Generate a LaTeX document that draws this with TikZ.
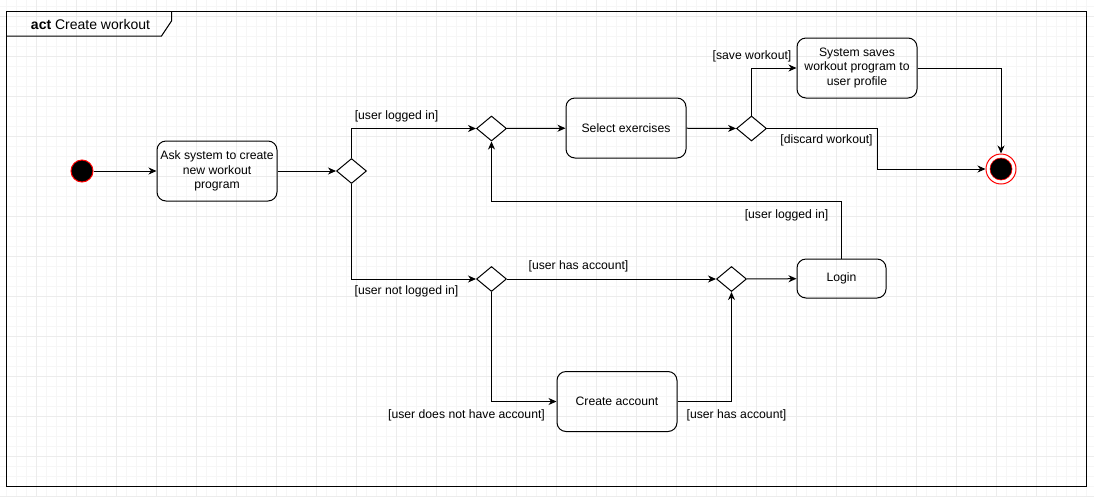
\documentclass[tikz,border=0pt]{standalone}
\usepackage{fontspec}
\setmainfont{Liberation Sans}
\usetikzlibrary{shapes.geometric,arrows.meta}
\begin{document}
\begin{tikzpicture}[x=1pt,y=-1pt,line width=1pt,
    font=\fontsize{12.2}{14.2}\selectfont,
    action/.style={draw,rounded corners=9pt,align=center,minimum width=120pt,minimum height=60pt,inner sep=2pt},
    choice/.style={draw,diamond,minimum width=30pt,minimum height=25pt,inner sep=0pt,fill=white},
    flow/.style={-{Stealth[length=8pt,width=7pt,inset=2.5pt]}},
    guard/.style={inner sep=0pt}]
    \useasboundingbox (0,0) rectangle (1094,496);
    \fill[white] (0,0) rectangle (1094,496);
    % grid
    \foreach \i in {0,...,108} \draw[gray!7,line width=0.8pt] (6.7+10*\i,0) -- (6.7+10*\i,496);
    \foreach \i in {0,...,48} \draw[gray!7,line width=0.8pt] (0,6.7+10*\i) -- (1094,6.7+10*\i);
    \foreach \i in {0,...,26} \draw[gray!15,line width=0.8pt] (-3.3+40*\i,0) -- (-3.3+40*\i,496);
    \foreach \i in {0,...,12} \draw[gray!15,line width=0.8pt] (0,16.7+40*\i) -- (1094,16.7+40*\i);
    % frame
    \draw (6.5,11) rectangle (1086.5,486.5);
    \draw (6.5,36) -- (161.5,36) -- (171.5,21) -- (171.5,11);
    \node (title) at (90.5,24.5) {\fontsize{14}{16}\selectfont\textbf{act} Create workout};
    % nodes
    \node[circle,fill=black,draw=red,minimum size=22pt,inner sep=0pt] (start) at (82,171) {};
    \node[action] (ask) at (217,171) {Ask system to create\\new workout\\program};
    \node[choice] (d1) at (351.5,171) {};
    \node[choice] (d2) at (491.5,128.5) {};
    \node[action] (sel) at (626,128) {Select exercises};
    \node[choice] (d3) at (751.5,128.5) {};
    \node[action] (save) at (857,68) {System saves\\workout program to\\user profile};
    \node[circle,draw=red,fill=white,minimum size=30pt,inner sep=0pt] (endc) at (1001,169) {};
    \node[circle,fill=black,draw=red,line width=0.6pt,minimum size=22pt,inner sep=0pt] (endi) at (endc) {};
    \node[choice] (d4) at (491.5,279) {};
    \node[choice] (d5) at (731.5,279) {};
    \node[action,minimum width=89pt,minimum height=39pt] (login) at (841.5,278.5) {Login};
    \node[action] (create) at (617,401.5) {Create account};
    \coordinate (bend) at (877,150);
    \coordinate (back) at (491.5,201);
    % connectors
    \draw[flow] (start) -- (ask);
    \draw[flow] (ask) -- (d1);
    \draw[flow] (d1.north) |- (d2.west);
    \draw[flow] (d2) -- (sel);
    \draw[flow] (sel) -- (d3);
    \draw[flow] (d3.north) |- (save.west);
    \draw[flow] (d3.east) -| (bend) |- (endc.west);
    \draw[flow] (save.east) -| (endc.north);
    \draw[flow] (d1.south) |- (d4.west);
    \draw[flow] (d4) -- (d5);
    \draw[flow] (d4.south) |- (create.west);
    \draw[flow] (create.east) -| (d5.south);
    \draw[flow] (d5) -- (login);
    \draw[flow] (login.north) |- (back) -- (d2.south);
    % guards
    \node[guard] (g1) at (396.5,116) {[user logged in]};
    \node[guard] (g2) at (752,56) {[save workout]};
    \node[guard] (g3) at (826.5,140.5) {[discard workout]};
    \node[guard] (g4) at (786.5,215) {[user logged in]};
    \node[guard] (g5) at (406.5,291) {[user not logged in]};
    \node[guard] (g6) at (578.5,266) {[user has account]};
    \node[guard] (g7) at (466.5,415) {[user does not have account]};
    \node[guard] (g8) at (736.5,415) {[user has account]};
\end{tikzpicture}
\end{document}
